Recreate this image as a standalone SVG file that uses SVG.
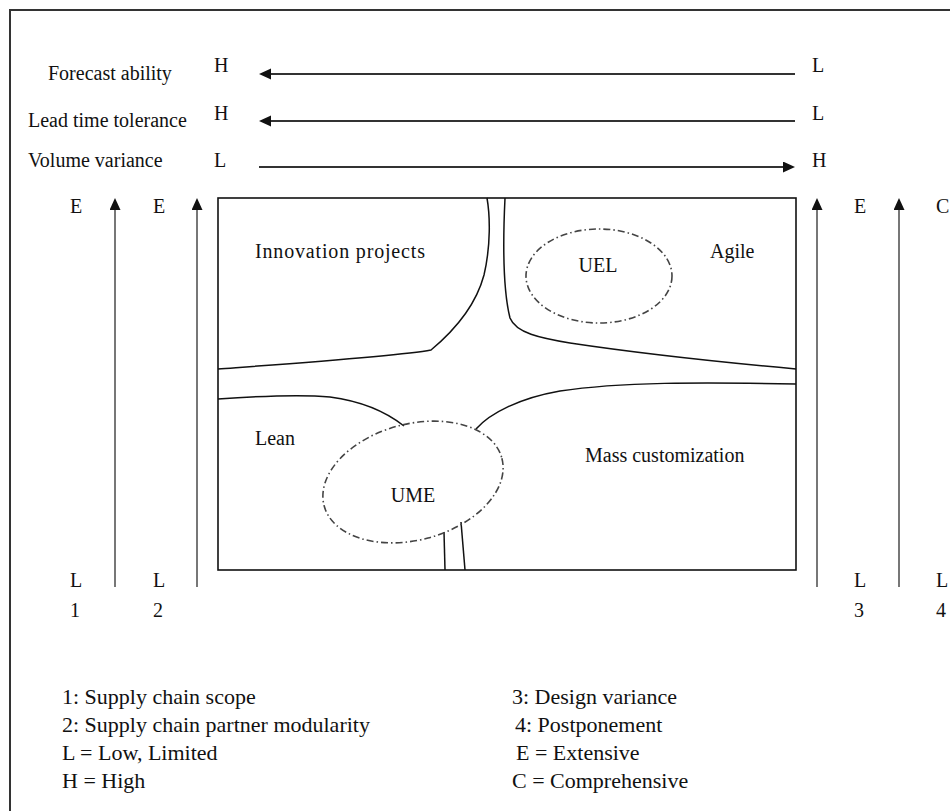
<svg xmlns="http://www.w3.org/2000/svg" width="950" height="811" viewBox="0 0 950 811">
<style>
  text { font-family: "Liberation Serif", "Times New Roman", serif; fill: #111; }
  .lbl { font-size: 20px; }
  .leg { font-size: 22px; }
  .frame { fill: none; stroke: #333; stroke-width: 2; }
  .box { fill: none; stroke: #111; stroke-width: 1.6; }
  .curve { fill: none; stroke: #111; stroke-width: 1.5; }
  .oval { fill: none; stroke: #444; stroke-width: 1.6; stroke-dasharray: 7 3 1.5 3; }
  .harrow { fill: none; stroke: #333; stroke-width: 2; }
  .varrow { fill: none; stroke: #777; stroke-width: 2; }
</style>
<defs>
  <marker id="ah" markerUnits="userSpaceOnUse" markerWidth="14" markerHeight="12" refX="2" refY="5.5" orient="auto">
    <path d="M0,0 L12,5.5 L0,11 z" fill="#111"/>
  </marker>
</defs>
<rect width="950" height="811" fill="#fff"/>
<g id="frame">
  <path class="frame" d="M10,811 L10,10 L950,10"/>
</g>
<g id="connectors">
  <line class="harrow" x1="795" y1="74" x2="269" y2="74" marker-end="url(#ah)"/>
  <line class="harrow" x1="795" y1="121" x2="269" y2="121" marker-end="url(#ah)"/>
  <line class="harrow" x1="259" y1="167" x2="785" y2="167" marker-end="url(#ah)"/>
  <line class="varrow" x1="115" y1="587" x2="115" y2="208" marker-end="url(#ah)"/>
  <line class="varrow" x1="197" y1="587" x2="197" y2="208" marker-end="url(#ah)"/>
  <line class="varrow" x1="817" y1="587" x2="817" y2="208" marker-end="url(#ah)"/>
  <line class="varrow" x1="899" y1="587" x2="899" y2="208" marker-end="url(#ah)"/>
</g>
<g id="axis-forecast">
  <text class="lbl" x="48" y="80">Forecast ability</text>
  <text class="lbl" x="214" y="72">H</text>
  <text class="lbl" x="812" y="72">L</text>
</g>
<g id="axis-leadtime">
  <text class="lbl" x="28" y="127">Lead time tolerance</text>
  <text class="lbl" x="214" y="120">H</text>
  <text class="lbl" x="812" y="120">L</text>
</g>
<g id="axis-volume">
  <text class="lbl" x="28" y="167">Volume variance</text>
  <text class="lbl" x="214" y="167">L</text>
  <text class="lbl" x="812" y="167">H</text>
</g>
<g id="axis-1">
  <text class="lbl" x="70" y="213">E</text>
  <text class="lbl" x="70" y="587">L</text>
  <text class="lbl" x="70" y="617">1</text>
</g>
<g id="axis-2">
  <text class="lbl" x="153" y="213">E</text>
  <text class="lbl" x="153" y="587">L</text>
  <text class="lbl" x="153" y="617">2</text>
</g>
<g id="axis-3">
  <text class="lbl" x="854" y="213">E</text>
  <text class="lbl" x="854" y="587">L</text>
  <text class="lbl" x="854" y="617">3</text>
</g>
<g id="axis-4">
  <text class="lbl" x="936" y="213">C</text>
  <text class="lbl" x="936" y="587">L</text>
  <text class="lbl" x="936" y="617">4</text>
</g>
<g id="matrix">
  <rect class="box" x="218" y="198" width="578" height="372"/>
  <path class="curve" d="M218,369 C300,363 400,356 431,350 C455,330 476,305 484,275 C491,245 490,215 487,198"/>
  <path class="curve" d="M505,198 C503,240 503,290 510,318 C516,333 540,338 570,343 C650,355 730,363 796,369"/>
  <path class="curve" d="M218,399 C260,396 300,394 330,397 C360,401 385,411 404,426"/>
  <path class="curve" d="M476,429 C490,413 520,398 560,391 C620,382 700,382 796,384"/>
  <path class="curve" d="M444,532 L445,570"/>
  <path class="curve" d="M461,522 L465,570"/>
</g>
<g id="innovation">
  <text class="lbl" x="255" y="258" textLength="170" lengthAdjust="spacing">Innovation projects</text>
</g>
<g id="agile">
  <text class="lbl" x="710" y="258">Agile</text>
</g>
<g id="lean">
  <text class="lbl" x="255" y="445">Lean</text>
</g>
<g id="mass-customization">
  <text class="lbl" x="585" y="462">Mass customization</text>
</g>
<g id="uel">
  <ellipse class="oval" cx="599" cy="276" rx="73" ry="47"/>
  <text class="lbl" x="598" y="272" text-anchor="middle">UEL</text>
</g>
<g id="ume">
  <ellipse class="oval" cx="413" cy="482" rx="92" ry="58" transform="rotate(-15 413 482)"/>
  <text class="lbl" x="413" y="502" text-anchor="middle">UME</text>
</g>
<g id="legend">
  <text class="leg" x="62" y="704">1: Supply chain scope</text>
  <text class="leg" x="62" y="732">2: Supply chain partner modularity</text>
  <text class="leg" x="62" y="760">L = Low, Limited</text>
  <text class="leg" x="62" y="788">H = High</text>
  <text class="leg" x="512" y="704">3: Design variance</text>
  <text class="leg" x="515" y="732">4: Postponement</text>
  <text class="leg" x="516" y="760">E = Extensive</text>
  <text class="leg" x="512" y="788">C = Comprehensive</text>
</g>
</svg>
